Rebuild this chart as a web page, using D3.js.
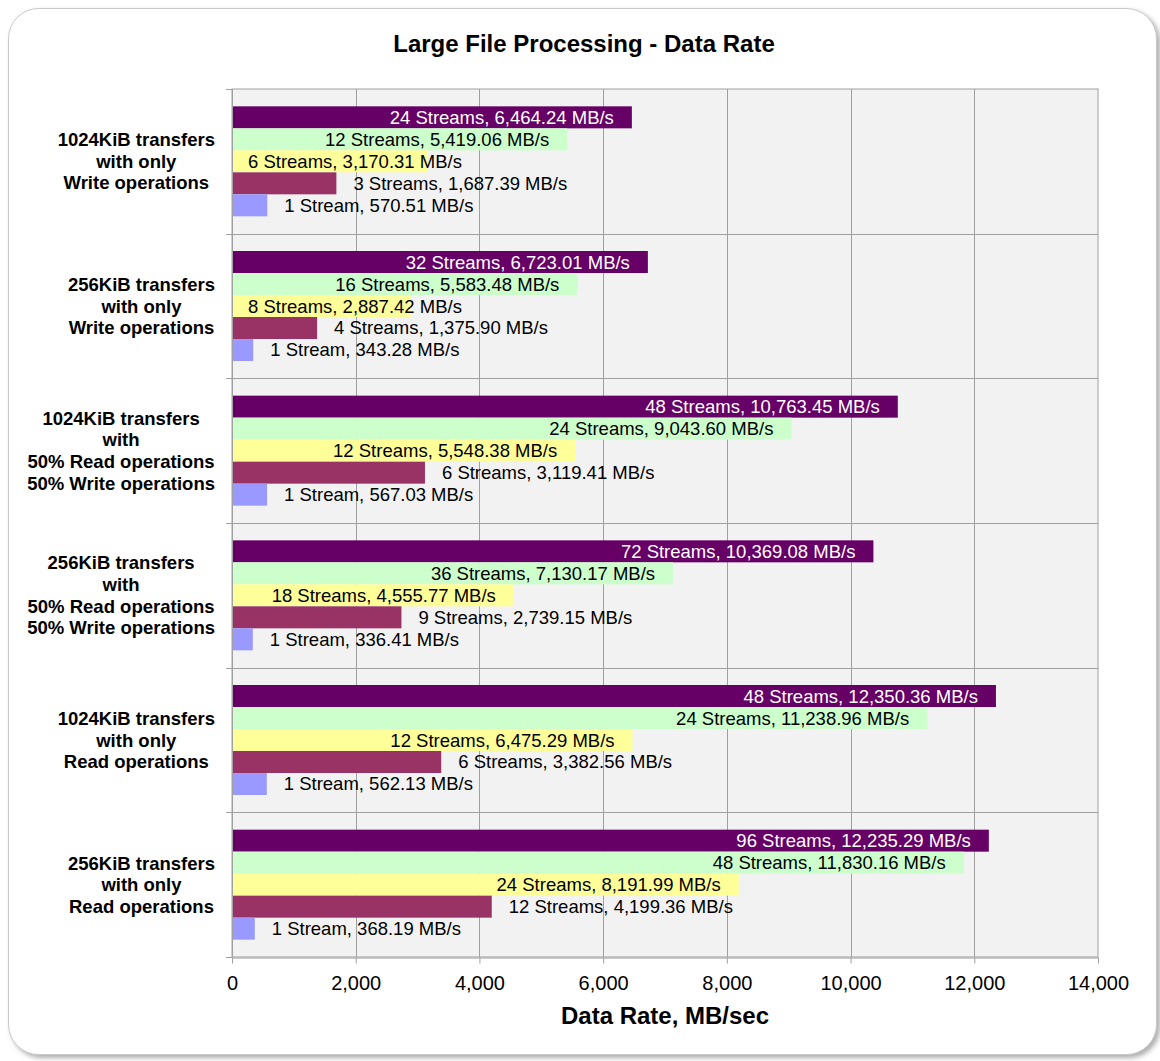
<!DOCTYPE html>
<html>
<head>
<meta charset="utf-8">
<script src="https://cdn.jsdelivr.net/npm/d3@7"></script>
<style>
  body { margin: 0; background: #fff; }
  svg { display: block; font-family: "Liberation Sans", Arial, sans-serif; }
</style>
</head>
<body>
<div id="chart"></div>
<script>
// categories, top to bottom
var categories = [
  ["1024KiB transfers", "with only", "Write operations"],
  ["256KiB transfers", "with only", "Write operations"],
  ["1024KiB transfers", "with", "50% Read operations", "50% Write operations"],
  ["256KiB transfers", "with", "50% Read operations", "50% Write operations"],
  ["1024KiB transfers", "with only", "Read operations"],
  ["256KiB transfers", "with only", "Read operations"]
];

// series, drawn top to bottom inside each category
var streamsA = [24, 32, 48, 72, 48, 96];
var ratesA = [6464.24, 6723.01, 10763.45, 10369.08, 12350.36, 12235.29];
var streamsB = [12, 16, 24, 36, 24, 48];
var ratesB = [5419.06, 5583.48, 9043.60, 7130.17, 11238.96, 11830.16];
var streamsC = [6, 8, 12, 18, 12, 24];
var ratesC = [3170.31, 2887.42, 5548.38, 4555.77, 6475.29, 8191.99];
var streamsD = [3, 4, 6, 9, 6, 12];
var ratesD = [1687.39, 1375.90, 3119.41, 2739.15, 3382.56, 4199.36];
var streamsE = [1, 1, 1, 1, 1, 1];
var ratesE = [570.51, 343.28, 567.03, 336.41, 562.13, 368.19];

var xTicks = [0, 2000, 4000, 6000, 8000, 10000, 12000, 14000];

var seriesColors = ["#660066", "#ccffcc", "#ffff99", "#993366", "#9999ff"];
var labelColors = ["#ffffff", "#000000", "#000000", "#000000", "#000000"];
var labelInside = [true, true, true, false, false];

var series = [
  { streams: streamsA, rates: ratesA },
  { streams: streamsB, rates: ratesB },
  { streams: streamsC, rates: ratesC },
  { streams: streamsD, rates: ratesD },
  { streams: streamsE, rates: ratesE }
];

var W = 1160, H = 1061;
var plot = { left: 232, right: 1098, top: 89, bottom: 957 };

var svg = d3.select("#chart").append("svg")
  .attr("width", W)
  .attr("height", H);

var defs = svg.append("defs");
var f = defs.append("filter").attr("id", "shadow")
  .attr("x", "-5%").attr("y", "-5%").attr("width", "110%").attr("height", "110%");
f.append("feDropShadow")
  .attr("dx", 3).attr("dy", 3).attr("stdDeviation", 2.5)
  .attr("flood-color", "#777").attr("flood-opacity", 0.6);

// outer frame
svg.append("rect")
  .attr("x", 8.5).attr("y", 8.5)
  .attr("width", 1148).attr("height", 1046)
  .attr("rx", 30).attr("ry", 30)
  .attr("fill", "#fff")
  .attr("stroke", "#c8c8c8")
  .attr("filter", "url(#shadow)");

// title
svg.append("text")
  .attr("x", 584).attr("y", 52)
  .attr("text-anchor", "middle")
  .attr("font-size", 24).attr("font-weight", "bold")
  .text("Large File Processing - Data Rate");

var x = d3.scaleLinear().domain([0, 14000]).range([plot.left, plot.right]);
var y = d3.scaleBand().domain(d3.range(categories.length))
  .range([plot.top, plot.bottom]).paddingInner(0).paddingOuter(0);
var ys = d3.scaleBand().domain(d3.range(series.length))
  .range([0, y.bandwidth()]).paddingInner(0).paddingOuter(0.788);

// plot background
svg.append("rect")
  .attr("x", plot.left).attr("y", plot.top)
  .attr("width", plot.right - plot.left).attr("height", plot.bottom - plot.top)
  .attr("fill", "#f2f2f2")
  .attr("stroke", "#a0a0a0");

// vertical gridlines
svg.append("g").selectAll("line").data(xTicks.slice(1, -1)).enter().append("line")
  .attr("x1", function(d) { return Math.round(x(d)) + 0.5; })
  .attr("x2", function(d) { return Math.round(x(d)) + 0.5; })
  .attr("y1", plot.top).attr("y2", plot.bottom)
  .attr("stroke", "#a0a0a0");

// horizontal category lines
svg.append("g").selectAll("line").data(d3.range(1, categories.length)).enter().append("line")
  .attr("x1", plot.left - 6).attr("x2", plot.right)
  .attr("y1", function(d) { return Math.round(y(d)) + 0.5; })
  .attr("y2", function(d) { return Math.round(y(d)) + 0.5; })
  .attr("stroke", "#a0a0a0");

// bars
var rows = [];
categories.forEach(function(c, ci) {
  series.forEach(function(s, si) {
    rows.push({ ci: ci, si: si, streams: s.streams[ci], rate: s.rates[ci] });
  });
});

var fmt = d3.format(",.2f");

svg.append("g").selectAll("rect").data(rows).enter().append("rect")
  .attr("x", x(0))
  .attr("y", function(d) { return y(d.ci) + ys(d.si); })
  .attr("width", function(d) { return x(d.rate) - x(0); })
  .attr("height", ys.bandwidth())
  .attr("fill", function(d) { return seriesColors[d.si]; });

// data labels
var labels = svg.append("g").selectAll("text").data(rows).enter().append("text")
  .attr("font-size", 18.5)
  .attr("fill", function(d) { return labelColors[d.si]; })
  .attr("y", function(d) { return y(d.ci) + ys(d.si) + ys.bandwidth() / 2 + 6.5; })
  .text(function(d) {
    return d.streams + (d.streams === 1 ? " Stream, " : " Streams, ") + fmt(d.rate) + " MB/s";
  });

labels.each(function(d) {
  var t = d3.select(this);
  var w = this.getComputedTextLength();
  var xe = x(d.rate);
  var lx;
  if (labelInside[d.si]) {
    lx = xe - 18 - w;
    if (lx < plot.left + 16) lx = plot.left + 16;
  } else {
    lx = xe + 17;
  }
  t.attr("x", lx);
});

// left axis line + ticks
svg.append("line")
  .attr("x1", plot.left + 0.5).attr("x2", plot.left + 0.5)
  .attr("y1", plot.top).attr("y2", plot.bottom)
  .attr("stroke", "#a0a0a0");
svg.append("g").selectAll("line").data(d3.range(categories.length + 1)).enter().append("line")
  .attr("x1", plot.left - 6).attr("x2", plot.left)
  .attr("y1", function(d) { return Math.round(plot.top + d * y.step()) + 0.5; })
  .attr("y2", function(d) { return Math.round(plot.top + d * y.step()) + 0.5; })
  .attr("stroke", "#a0a0a0");

// category labels: block centred, block right edge near the axis
var catG = svg.append("g").selectAll("text").data(categories).enter().append("text")
  .attr("text-anchor", "middle")
  .attr("font-size", 18.5).attr("font-weight", "bold");
catG.each(function(lines, i) {
  var cy = y(i) + y.bandwidth() / 2;
  var lh = 21.6;
  var y0 = cy - (lines.length - 1) * lh / 2 + 6.5;
  var spans = d3.select(this).selectAll("tspan").data(lines).enter().append("tspan")
    .attr("y", function(d, j) { return y0 + j * lh; })
    .text(function(d) { return d; });
  var maxW = 0;
  spans.each(function() { maxW = Math.max(maxW, this.getComputedTextLength()); });
  spans.attr("x", plot.left - 17 - maxW / 2);
});

// bottom axis
var xAxis = d3.axisBottom(x).tickValues(xTicks).tickFormat(d3.format(",")).tickSizeInner(6).tickSizeOuter(0);
var gx = svg.append("g")
  .attr("transform", "translate(0," + (plot.bottom + 0.5) + ")")
  .call(xAxis);
gx.select(".domain").attr("stroke", "#a0a0a0");
gx.selectAll(".tick line").attr("stroke", "#a0a0a0");
gx.selectAll(".tick text")
  .attr("font-family", "'Liberation Sans', Arial, sans-serif")
  .attr("font-size", 20).attr("fill", "#000")
  .attr("y", 18).attr("dy", "0.71em");

svg.append("text")
  .attr("x", (plot.left + plot.right) / 2).attr("y", 1024)
  .attr("text-anchor", "middle")
  .attr("font-size", 24).attr("font-weight", "bold")
  .text("Data Rate, MB/sec");
</script>
</body>
</html>
